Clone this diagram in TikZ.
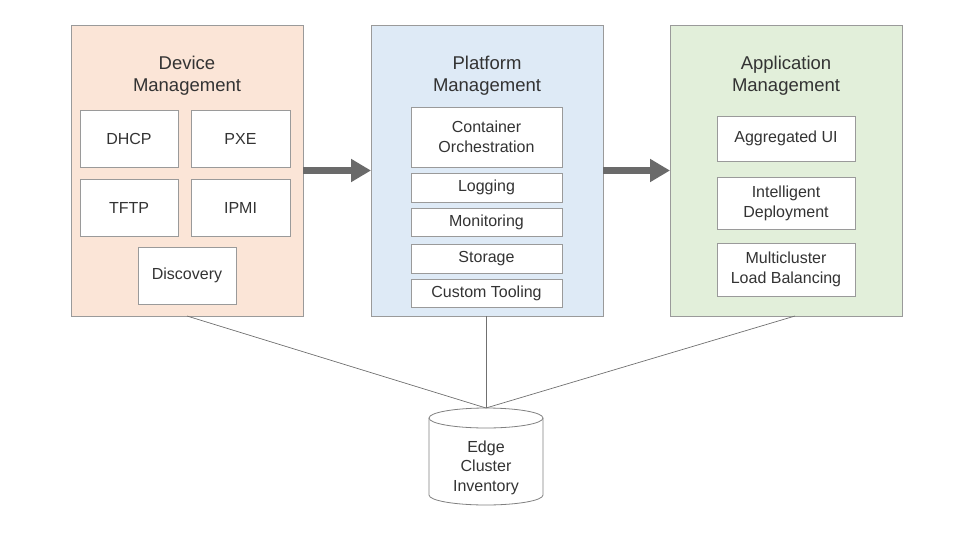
\documentclass[tikz,border=0pt]{standalone}
\usepackage{fontspec}
\setmainfont{Liberation Sans}
\usetikzlibrary{arrows.meta}
\definecolor{txt}{HTML}{333333}
\definecolor{bord}{HTML}{9A9A9A}
\definecolor{cylb}{HTML}{808080}
\definecolor{peach}{HTML}{FBE5D7}
\definecolor{pblue}{HTML}{DEEAF6}
\definecolor{pgreen}{HTML}{E2EFDA}
\definecolor{arr}{HTML}{6A6A6A}
\definecolor{linkc}{HTML}{707070}
\begin{document}
\begin{tikzpicture}[x=1pt,y=-1pt,
  panel/.style={draw=bord,line width=0.8pt,inner sep=0pt,outer sep=0pt},
  title/.style={text=txt,font=\fontsize{18.5}{22}\selectfont,align=center,inner sep=0pt},
  item/.style={draw=bord,line width=0.7pt,fill=white,inner sep=0pt,outer sep=0pt,
    text=txt,font=\fontsize{16}{20}\selectfont,align=center},
  bigarrow/.style={draw=arr,line width=7pt,-{Triangle[length=20pt,width=22pt]}},
  link/.style={draw=linkc,line width=0.7pt}]
\useasboundingbox (0,0) rectangle (975,536);
% panels
\node[panel,fill=peach,minimum width=232pt,minimum height=291pt] (dev) at (187,170.5) {};
\node[panel,fill=pblue,minimum width=232pt,minimum height=291pt] (plat) at (487,170.5) {};
\node[panel,fill=pgreen,minimum width=232pt,minimum height=291pt] (app) at (786,170.5) {};
% titles
\node[title] (devt) at (187,75.5) {Device\\Management};
\node[title] (platt) at (487,75.5) {Platform\\Management};
\node[title] (appt) at (786,75.5) {Application\\Management};
% device items
\node[item,minimum width=98pt,minimum height=57pt] (dhcp) at (129,138.5) {DHCP};
\node[item,minimum width=99pt,minimum height=57pt] (pxe) at (240.5,138.5) {PXE};
\node[item,minimum width=98pt,minimum height=57pt] (tftp) at (129,207.5) {TFTP};
\node[item,minimum width=99pt,minimum height=57pt] (ipmi) at (240.5,207.5) {IPMI};
\node[item,minimum width=98pt,minimum height=57pt] (disc) at (187,275.5) {Discovery};
% platform items
\node[item,minimum width=151pt,minimum height=60pt] (cont) at (486.5,137) {Container\\Orchestration};
\node[item,minimum width=151pt,minimum height=29pt] (logg) at (486.5,187.5) {Logging};
\node[item,minimum width=151pt,minimum height=28pt] (moni) at (486.5,222) {Monitoring};
\node[item,minimum width=151pt,minimum height=29pt] (stor) at (486.5,258.5) {Storage};
\node[item,minimum width=151pt,minimum height=28pt] (cust) at (486.5,293) {Custom Tooling};
% application items
\node[item,minimum width=138pt,minimum height=45pt] (aggr) at (786,138.5) {Aggregated UI};
\node[item,minimum width=138pt,minimum height=52pt] (intel) at (786,203) {Intelligent\\Deployment};
\node[item,minimum width=138pt,minimum height=53pt] (multi) at (786,269.5) {Multicluster\\Load Balancing};
% arrows
\draw[bigarrow] (dev.east |- 0,170.5) -- (plat.west |- 0,170.5);
\draw[bigarrow] (plat.east |- 0,170.5) -- (app.west |- 0,170.5);
% cylinder
\draw[cylb,line width=0.8pt,fill=white]
  (429,418) -- (429,495) arc[start angle=180,end angle=360,x radius=57pt,y radius=10pt]
  -- (543,418) arc[start angle=0,end angle=180,x radius=57pt,y radius=10pt] -- cycle;
\draw[cylb,line width=0.8pt] (429,418) arc[start angle=180,end angle=360,x radius=57pt,y radius=10pt];
\coordinate (inv) at (486,408);
\node[text=txt,font=\fontsize{16}{19.5}\selectfont,align=center,inner sep=0pt] (invt) at (486,467.5) {Edge\\Cluster\\Inventory};
% links
\draw[link] (dev.south) -- (inv);
\draw[link] (plat.south -| inv) -- (inv);
\draw[link] (795,316) -- (inv);
\end{tikzpicture}
\end{document}
